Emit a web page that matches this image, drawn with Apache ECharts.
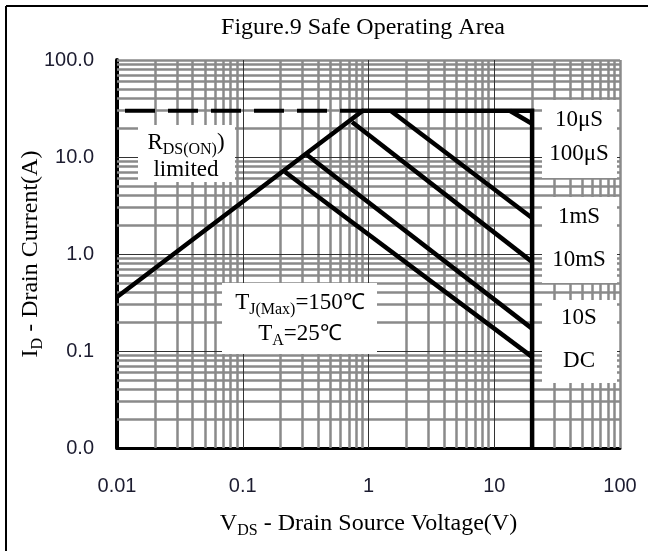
<!DOCTYPE html>
<html>
<head>
<meta charset="utf-8">
<script src="https://cdn.jsdelivr.net/npm/echarts@6/dist/echarts.min.js"></script>
<style>
  html, body { margin: 0; padding: 0; background: #fff; }
  #chart { width: 648px; height: 551px; }
</style>
</head>
<body>
<div id="chart"></div>
<script>
// axis ticks
const xTicks = [0.01, 0.1, 1, 10, 100]
const xTickLabels = ['0.01', '0.1', '1', '10', '100']
const yTicks = [0.01, 0.1, 1, 10, 100]
const yTickLabels = ['0.0', '0.1', '1.0', '10.0', '100.0']
const gridDecades = [0.01, 0.1, 1, 10]
const gridSteps = [2, 3, 4, 5, 6, 7, 8, 9]

// curves (V, A)
const rdsDashV = [0.01, 0.9]
const rdsDashI = [30, 30]
const envelopeV = [0.01, 0.9, 20, 20]
const envelopeI = [0.36, 30, 30, 0.01]
const us10V = [13.3, 20]
const us10I = [30, 22]
const ms1V = [1.5, 20]
const ms1I = [30, 2.35]
const ms10V = [0.74, 20]
const ms10I = [23, 0.83]
const s10V = [0.325, 20]
const s10I = [10.5, 0.17]
const dcV = [0.217, 20]
const dcI = [7.0, 0.087]

const zip = (xs, ys) => xs.map((x, i) => [x, ys[i]])
const tickText = (ticks, labels) => v => {
  const i = ticks.findIndex(t => Math.abs(Math.log10(t) - Math.log10(v)) < 0.01)
  return i >= 0 ? labels[i] : ''
}

const minorVals = []
gridDecades.forEach(d => gridSteps.forEach(k => minorVals.push(d * k)))

const serif = '"Liberation Serif", "Times New Roman", serif'
const sans = '"Liberation Sans", Arial, sans-serif'
const black = '#000'

// rich styles with a lowered subscript (padding pushes it down)
const makeRich = (size, lh, subSize, drop) => ({
  m: { fontFamily: serif, fontSize: size, lineHeight: lh, verticalAlign: 'middle', color: black },
  s: { fontFamily: serif, fontSize: subSize, lineHeight: 10, padding: [drop, 0, 0, 0], verticalAlign: 'middle', color: black },
  c: { fontFamily: sans, fontSize: size - 1, lineHeight: lh, verticalAlign: 'middle', color: black }
})
const nameRich = makeRich(24, 26, 16, 14)
const rdsRich = makeRich(23, 27, 16, 14)
const tjRich = makeRich(23, 31, 16, 15)

const curve = (name, xs, ys, dashed) => ({
  name,
  type: 'line',
  data: zip(xs, ys),
  symbol: 'none',
  z: 10,
  silent: true,
  lineStyle: dashed
    ? { color: black, width: 4, type: [30, 13], dashOffset: 35, cap: 'butt' }
    : { color: black, width: 4.5, cap: 'butt', join: 'miter' }
})

const label = (text, y) => ({
  type: 'text', z: 101, x: 579, y,
  style: { text, font: '23px ' + serif, fill: black, align: 'center', verticalAlign: 'middle' }
})

const chart = echarts.init(document.getElementById('chart'), null, { renderer: 'canvas' })

const opt = {
  animation: false,
  backgroundColor: '#fff',
  grid: { left: 117, right: 28, top: 60, bottom: 103, containLabel: false, outerBoundsMode: 'none' },
  xAxis: {
    type: 'log',
    logBase: 10,
    min: 0.01,
    max: 100,
    axisLine: { show: true, onZero: false, lineStyle: { color: black, width: 3 } },
    axisTick: { show: false },
    splitLine: { show: false },
    axisLabel: {
      margin: 28,
      fontFamily: sans,
      fontSize: 20,
      color: '#1c1c30',
      formatter: tickText(xTicks, xTickLabels)
    },
    name: '{m|V}{s|DS}{m| - Drain Source Voltage(V)}',
    nameLocation: 'middle',
    nameMoveOverlap: false,
    nameGap: 63,
    nameTextStyle: { rich: nameRich }
  },
  yAxis: {
    type: 'log',
    logBase: 10,
    min: 0.01,
    max: 100,
    axisLine: { show: true, onZero: false, lineStyle: { color: black, width: 4 } },
    axisTick: { show: false },
    splitLine: { show: false },
    axisLabel: {
      margin: 23,
      fontFamily: sans,
      fontSize: 20,
      color: '#1c1c30',
      formatter: tickText(yTicks, yTickLabels)
    },
    name: '{m|I}{s|D}{m| - Drain Current(A)}',
    nameLocation: 'middle',
    nameRotate: 90,
    nameMoveOverlap: false,
    nameGap: 73,
    nameTextStyle: { rich: nameRich }
  },
  graphic: [
    // outer frame
    { type: 'line', z: 100, shape: { x1: 6, y1: 6, x2: 6, y2: 560 }, style: { stroke: black, lineWidth: 2 } },
    { type: 'line', z: 100, shape: { x1: 6, y1: 6, x2: 660, y2: 6 }, style: { stroke: black, lineWidth: 2 } },
    {
      type: 'text', z: 100, x: 363, y: 28,
      style: { text: 'Figure.9 Safe Operating Area', font: '24px ' + serif, fill: black, align: 'center', verticalAlign: 'middle' }
    },
    // label boxes
    { type: 'rect', z: 100, shape: { x: 138, y: 125, width: 97, height: 57 }, style: { fill: '#fff' } },
    {
      type: 'text', z: 101, x: 186, y: 156,
      style: { text: '{m|R}{s|DS(ON)}{m|)}\n{m|limited}', rich: rdsRich, align: 'center', verticalAlign: 'middle' }
    },
    { type: 'rect', z: 100, shape: { x: 222, y: 283, width: 155, height: 71 }, style: { fill: '#fff' } },
    {
      type: 'text', z: 101, x: 300, y: 318,
      style: { text: '{m|T}{s|J(Max)}{m|=150}{c|℃}\n{m|T}{s|A}{m|=25}{c|℃}', rich: tjRich, align: 'center', verticalAlign: 'middle' }
    },
    { type: 'rect', z: 100, shape: { x: 542, y: 100, width: 75, height: 78 }, style: { fill: '#fff' } },
    { type: 'rect', z: 100, shape: { x: 542, y: 197, width: 75, height: 86 }, style: { fill: '#fff' } },
    { type: 'rect', z: 100, shape: { x: 542, y: 300, width: 75, height: 83 }, style: { fill: '#fff' } },
    label('10μS', 120),
    label('100μS', 154),
    label('1mS', 217),
    label('10mS', 260),
    label('10S', 318),
    label('DC', 361)
  ],
  series: [
    {
      // log grid: grey at 2..9, thin dark at the decades
      type: 'line',
      data: [],
      silent: true,
      markLine: {
        z: 1,
        silent: true,
        symbol: 'none',
        animation: false,
        label: { show: false },
        lineStyle: { color: '#8a8a8a', width: 2.5, type: 'solid' },
        data: [
          ...minorVals.map(v => ({ xAxis: v })),
          ...minorVals.map(v => ({ yAxis: v })),
          { xAxis: 100 },
          { yAxis: 100 },
          ...[0.1, 1, 10].map(v => ({ xAxis: v, lineStyle: { color: '#333', width: 1 } })),
          ...[0.1, 1, 10].map(v => ({ yAxis: v, lineStyle: { color: '#333', width: 1 } }))
        ]
      }
    },
    curve('RDS(ON) limit', rdsDashV, rdsDashI, true),
    curve('envelope', envelopeV, envelopeI, false),
    curve('10us', us10V, us10I, false),
    curve('1ms', ms1V, ms1I, false),
    curve('10ms', ms10V, ms10I, false),
    curve('10s', s10V, s10I, false),
    curve('DC', dcV, dcI, false)
  ]
}

chart.setOption(opt)
</script>
</body>
</html>
